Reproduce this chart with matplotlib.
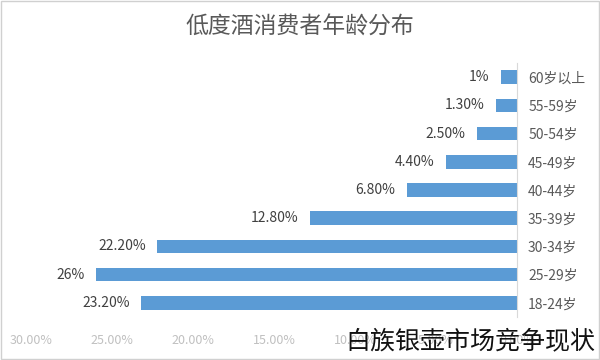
import matplotlib
matplotlib.use("Agg")
import matplotlib.pyplot as plt
import numpy as np

plt.rcParams['font.family'] = ['Noto Sans CJK SC', 'DejaVu Sans']

# data (bottom to top)
ages = ["18-24岁", "25-29岁", "30-34岁", "35-39岁", "40-44岁",
        "45-49岁", "50-54岁", "55-59岁", "60岁以上"]
share = [23.2, 26.0, 22.2, 12.8, 6.8, 4.4, 2.5, 1.3, 1.0]
share_labels = ["23.20%", "26%", "22.20%", "12.80%", "6.80%",
                "4.40%", "2.50%", "1.30%", "1%"]
xticks = [0, 5, 10, 15, 20, 25, 30]
xtick_labels = ["0.00%", "5.00%", "10.00%", "15.00%", "20.00%", "25.00%", "30.00%"]

fig = plt.figure(figsize=(6, 3.6), dpi=100)
ax = fig.add_axes([31/600, 1-317/360, (517-31)/600, (317-63)/360])

y = np.arange(len(ages))
ax.barh(y, share, height=0.48, color="#5b9bd5")
for yi, v, lab in zip(y, share, share_labels):
    ax.text(v + 0.7, yi, lab, ha="right", va="center", fontsize=10, color="#404040")

ax.set_xlim(30, 0)
ax.set_ylim(-0.5, len(ages) - 0.5)
ax.set_yticks(y)
ax.set_yticklabels(ages, fontsize=10, color="#595959")
ax.yaxis.tick_right()
ax.tick_params(axis="y", length=0, pad=8)
ax.set_xticks(xticks)
ax.set_xticklabels(xtick_labels, fontsize=9, color="#c0c0c0")
ax.tick_params(axis="x", length=0, pad=12)

for s in ["top", "left", "bottom"]:
    ax.spines[s].set_visible(False)
ax.spines["right"].set_color("#d9d9d9")

fig.text(0.5, 1-27/360, "低度酒消费者年龄分布", ha="center", va="center",
         fontsize=16.5, color="#595959")
fig.text(595/600, 1-341/360, "白族银壶市场竞争现状", ha="right", va="center",
         fontsize=18, color="#111111")

# light frame around the picture
fig.patches.append(plt.Rectangle((0.002, 0.003), 0.996, 0.994, transform=fig.transFigure,
                                 fill=False, edgecolor="#d0d0d0", linewidth=1))

fig.savefig("out.png", dpi=100)
